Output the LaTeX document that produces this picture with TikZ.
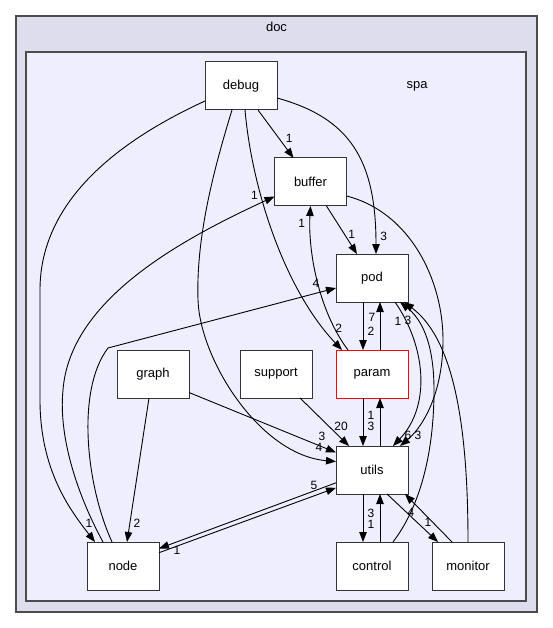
\documentclass[tikz,border=0pt]{standalone}
\usepackage{fontspec}
\setmainfont{Liberation Sans}
\usetikzlibrary{arrows.meta, positioning}
\definecolor{docfill}{HTML}{DDDDEE}
\definecolor{spafill}{HTML}{EEEEFF}
\tikzset{
  box/.style={rectangle,draw=black!80,line width=1pt,fill=white,minimum width=72pt,minimum height=48pt,inner sep=0pt,outer sep=0pt,font=\fontsize{13}{15}\selectfont},
  cluster/.style={draw=black!70,line width=1.1pt},
  title/.style={inner sep=0pt,font=\fontsize{13}{15}\selectfont},
  line/.style={-{Triangle[length=10pt,width=7.5pt]},line width=0.9pt},
  lab/.style={inner sep=0pt,font=\fontsize{12}{14}\selectfont}
}

\begin{document}
\begin{tikzpicture}[x=1pt,y=1pt,node distance=48pt and 24pt]
\useasboundingbox (0,0) rectangle (552,-628);
\draw[cluster,fill=docfill] (16,-16) rectangle (537,-612);
\draw[cluster,fill=spafill] (26,-52) rectangle (526,-601);
\node[title] (doc) at (276.5,-27) {doc};
\node[title] (spa) at (417,-86) {spa};

\node[box] (pod) at (372,-278) {pod};
\node[box, draw=red, below=of pod] (param) {param};
\node[box, below=of param] (utils) {utils};
\node[box, below=of utils] (control) {control};
\node[box, right=of control] (monitor) {monitor};
\node[box, left=of param] (support) {support};
\node[box, left=51pt of support] (graph) {graph};
\node[box] (nodedir) at (123,-566) {node};
\node[box, above=of pod, xshift=-61.5pt] (buffer) {buffer};
\node[box, above=of buffer, xshift=-69.5pt] (debug) {debug};

\draw[line] ([xshift=17pt]debug.south) -- ([xshift=-17pt]buffer.north) node[lab,pos=.6,xshift=10pt] (l-debug-buffer) {1};
\draw[line] ([yshift=-12pt]debug.east) .. controls (350,-118) and (376,-160) .. ([xshift=4pt]pod.north) node[lab,pos=.95,xshift=8pt,yshift=4pt] (l-debug-pod) {3};
\draw[line] ([xshift=4pt]debug.south) .. controls (252,-190) and (285,-290) .. ([xshift=-30pt]param.north) node[lab,pos=.9,xshift=13pt,yshift=3pt] (l-debug-param) {2};
\draw[line] ([xshift=-9pt]debug.south) .. controls (212,-175) and (196,-240) .. (198,-300) .. controls (200,-360) and (260,-455) .. ([yshift=8.5pt]utils.west) node[lab,at end,xshift=-17pt,yshift=14pt] (l-debug-utils) {4};
\draw[line] ([yshift=-15pt]debug.west) .. controls (120,-140) and (40,-200) .. (40,-290) -- (40,-400) .. controls (40,-470) and (70,-510) .. ([xshift=-28pt]nodedir.north) node[lab,at end,xshift=-6pt,yshift=19pt] (l-debug-node) {1};
\draw[line] ([xshift=16pt]buffer.south) -- ([xshift=-15pt]pod.north) node[lab,pos=.6,xshift=7pt] (l-buffer-pod) {1};
\draw[line] ([yshift=-14pt]buffer.east) .. controls (410,-212) and (443,-280) .. (443,-340) .. controls (443,-390) and (425,-425) .. ([xshift=28pt]utils.north) node[lab,at end,xshift=18pt,yshift=11pt] (l-buffer-utils) {3};
\draw[line] ([xshift=-24pt]param.north) .. controls (318,-310) and (308,-250) .. (buffer.south) node[lab,pos=.9,xshift=-8.5pt,yshift=-4pt] (l-param-buffer) {1};
\draw[line] ([xshift=8pt]param.north) -- ([xshift=8pt]pod.south) node[lab,at end,xshift=-8pt,yshift=-15pt] (l-param-pod) {7};
\draw[line] ([xshift=-9pt]param.south) -- ([xshift=-9pt]utils.north) node[lab,at end,xshift=8pt,yshift=20pt] (l-param-utils) {3};
\draw[line] ([xshift=-9pt]pod.south) -- ([xshift=-9pt]param.north) node[lab,at end,xshift=8pt,yshift=19pt] (l-pod-param) {2};
\draw[line] ([xshift=23pt]pod.south) .. controls (425,-345) and (432,-405) .. ([xshift=21pt]utils.north) node[lab,at end,xshift=15pt,yshift=11pt] (l-pod-utils) {6};
\draw[line] ([xshift=24pt]support.south) -- ([xshift=-23pt]utils.north) node[lab,at end,xshift=-8pt,yshift=20pt] (l-support-utils) {20};
\draw[line] ([yshift=-18.5pt]graph.east) -- ([yshift=17.5pt]utils.west) node[lab,at end,xshift=-14pt,yshift=16pt] (l-graph-utils) {3};
\draw[line] ([xshift=-4pt]graph.south) -- ([xshift=4pt]nodedir.north) node[lab,at end,xshift=10pt,yshift=18.5pt] (l-graph-node) {2};
\draw[line] ([xshift=8pt]utils.north) -- ([xshift=8pt]param.south) node[lab,at end,xshift=-9pt,yshift=-17pt] (l-utils-param) {1};
\draw[line] ([xshift=-9pt]utils.south) -- ([xshift=-9pt]control.north) node[lab,at end,xshift=8pt,yshift=18pt] (l-utils-control) {1};
\draw[line] ([xshift=15pt]utils.south) -- ([xshift=-30pt]monitor.north) node[lab,at end,xshift=-10pt,yshift=20pt] (l-utils-monitor) {1};
\draw[line] ([yshift=-12.8pt]utils.west) -- ([yshift=17.5pt]nodedir.east) node[lab,at end,xshift=18pt,yshift=-2pt] (l-utils-node) {1};
\draw[line] ([xshift=-20pt]nodedir.north) .. controls (80,-500) and (58,-440) .. (63,-390) .. controls (70,-300) and (180,-240) .. ([yshift=-14.5pt]buffer.west) node[lab,at end,xshift=-20pt,yshift=1pt] (l-node-buffer) {1};
\draw[line] ([xshift=-11pt]nodedir.north) .. controls (86,-485) and (76,-390) .. (108,-348) -- ([yshift=-10pt]pod.west) node[lab,at end,xshift=-20pt,yshift=5pt] (l-node-pod) {4};
\draw[line] ([yshift=13.3pt]nodedir.east) -- ([yshift=-17.8pt]utils.west) node[lab,at end,xshift=-22pt,yshift=2pt] (l-node-utils) {5};
\draw[line] ([xshift=8pt]control.north) -- ([xshift=8pt]utils.south) node[lab,at end,xshift=-9pt,yshift=-19pt] (l-control-utils) {3};
\draw[line] ([xshift=21pt]control.north) .. controls (425,-500) and (434,-440) .. (434,-390) .. controls (434,-340) and (420,-318) .. ([xshift=28pt]pod.south) node[lab,at end,xshift=-2pt,yshift=-19pt] (l-control-pod) {1};
\draw[line] ([xshift=-16pt]monitor.north) -- ([xshift=33pt]utils.south) node[lab,at end,xshift=6pt,yshift=-18pt] (l-monitor-utils) {4};
\draw[line] (monitor.north) .. controls (468,-430) and (455,-340) .. ([xshift=32pt]pod.south) node[lab,at end,xshift=4pt,yshift=-18pt] (l-monitor-pod) {3};
\end{tikzpicture}
\end{document}
